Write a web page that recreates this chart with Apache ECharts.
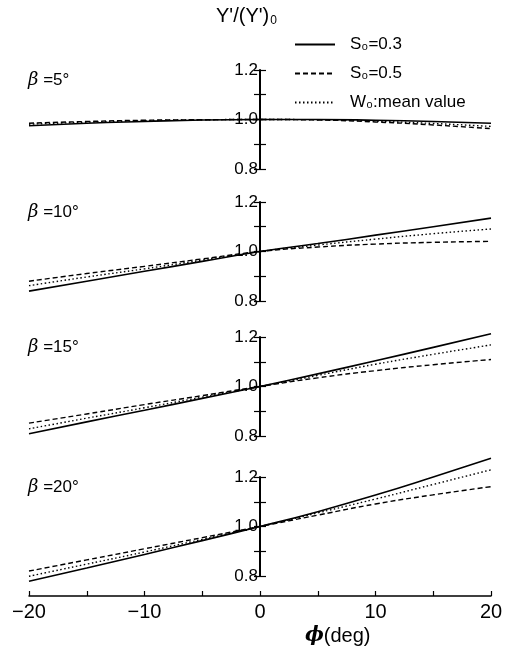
<!DOCTYPE html>
<html>
<head>
<meta charset="utf-8">
<script src="https://cdn.jsdelivr.net/npm/echarts@6/dist/echarts.min.js"></script>
<style>
  html, body { margin: 0; padding: 0; background: #fff; }
  #chart { width: 506px; height: 651px; }
</style>
</head>
<body>
<div id="chart"></div>
<script>
// phi (deg) sample points, shared by every panel
const phi = [-20, -15, -10, -5, 0, 5, 10, 15, 20];

// beta = 5 deg
const s03_b5 = [0.975, 0.985, 0.992, 0.998, 1.0, 1.0, 0.997, 0.992, 0.985];
const s05_b5 = [0.985, 0.992, 0.997, 0.999, 1.0, 0.998, 0.99, 0.978, 0.963];
const w0_b5 = [0.981, 0.989, 0.995, 0.999, 1.0, 0.999, 0.993, 0.984, 0.972];

// beta = 10 deg
const s03_b10 = [0.84, 0.88, 0.92, 0.96, 1.0, 1.032, 1.066, 1.1, 1.135];
const s05_b10 = [0.88, 0.911, 0.94, 0.97, 1.0, 1.018, 1.03, 1.037, 1.041];
const w0_b10 = [0.862, 0.897, 0.93, 0.965, 1.0, 1.026, 1.05, 1.072, 1.091];

// beta = 15 deg
const s03_b15 = [0.809, 0.857, 0.904, 0.952, 1.0, 1.051, 1.104, 1.158, 1.213];
const s05_b15 = [0.852, 0.889, 0.927, 0.963, 1.0, 1.035, 1.064, 1.088, 1.109];
const w0_b15 = [0.829, 0.872, 0.914, 0.957, 1.0, 1.045, 1.09, 1.13, 1.168];

// beta = 20 deg
const s03_b20 = [0.779, 0.832, 0.887, 0.943, 1.0, 1.06, 1.127, 1.2, 1.276];
const s05_b20 = [0.82, 0.865, 0.91, 0.955, 1.0, 1.046, 1.091, 1.128, 1.161];
const w0_b20 = [0.799, 0.848, 0.897, 0.948, 1.0, 1.055, 1.111, 1.17, 1.229];

const betaLabels = ['5°', '10°', '15°', '20°'];
const seriesNames = ['S₀=0.3', 'S₀=0.5', 'W₀:mean value'];

const panels = [
    [s03_b5, s05_b5, w0_b5],
    [s03_b10, s05_b10, w0_b10],
    [s03_b15, s05_b15, w0_b15],
    [s03_b20, s05_b20, w0_b20]
];

const FONT = '"Liberation Sans", Arial, sans-serif';
const gridTops = [70, 202, 337, 477];
const gridH = 99;
const lineTypes = ['solid', [5, 3], [1.5, 2.5]];

let grids = [], xAxes = [], yAxes = [], series = [], graphics = [];

panels.forEach((lines, g) => {
    grids.push({left: 29, width: 462, top: gridTops[g], height: gridH});
    let last = g === panels.length - 1;
    xAxes.push({
        gridIndex: g, type: 'value', min: -20, max: 20, interval: 5,
        show: last, offset: 20,
        axisLine: {show: last, onZero: false, lineStyle: {color: '#000', width: 1.5}},
        axisTick: {show: last, inside: true, length: 5, lineStyle: {color: '#000', width: 1.2}},
        splitLine: {show: false},
        axisLabel: {
            show: last, color: '#000', fontSize: 20, fontFamily: FONT, margin: 6,
            formatter: v => (v % 10 === 0 ? String(v).replace('-', '−') : '')
        }
    });
    // main axis: line, labels, left half of ticks
    yAxes.push({
        gridIndex: g, type: 'value', min: 0.8, max: 1.2, interval: 0.1,
        position: 'left', offset: -231,
        axisLine: {show: true, onZero: false, lineStyle: {color: '#000', width: 2}},
        axisTick: {show: true, length: 6, lineStyle: {color: '#000', width: 1.2}},
        splitLine: {show: false},
        axisLabel: {
            color: '#000', fontSize: 17, fontFamily: FONT, margin: 2,
            formatter: v => {
                let t = Math.round(v * 10);
                return t % 2 === 0 ? (t / 10).toFixed(1) : '';
            }
        }
    });
    // twin axis: right half of the ticks
    yAxes.push({
        gridIndex: g, type: 'value', min: 0.8, max: 1.2, interval: 0.1,
        position: 'left', offset: -231,
        axisLine: {show: false, onZero: false},
        axisTick: {show: true, inside: true, length: 6, lineStyle: {color: '#000', width: 1.2}},
        splitLine: {show: false},
        axisLabel: {show: false}
    });
    lines.forEach((vals, k) => {
        series.push({
            name: seriesNames[k], type: 'line', smooth: true, symbol: 'none',
            xAxisIndex: g, yAxisIndex: 2 * g, clip: false,
            lineStyle: {color: '#000', width: k === 0 ? 1.6 : 1.4, type: lineTypes[k]},
            itemStyle: {color: '#000'},
            data: phi.map((p, i) => [p, vals[i]])
        });
    });
    graphics.push({
        type: 'text', left: 28, top: gridTops[g] + 1,
        style: {
            text: '{b|β} =' + betaLabels[g], fill: '#000', font: '17px ' + FONT,
            rich: {b: {fontFamily: 'DejaVu Serif', fontStyle: 'italic', fontSize: 18}}
        }
    });
});

graphics.push({
    type: 'text', left: 216, top: 6,
    style: {
        text: "Y'/(Y'){s|0}", fill: '#000', font: '20px ' + FONT,
        rich: {s: {fontSize: 12, padding: [10, 0, 0, 1], fontFamily: FONT}}
    }
});
graphics.push({
    type: 'text', left: 305, top: 626,
    style: {
        text: '{p|ϕ}(deg)', fill: '#000', font: '20px ' + FONT,
        rich: {p: {fontFamily: 'DejaVu Serif', fontStyle: 'italic', fontWeight: 'bold', fontSize: 20}}
    }
});

const chart = echarts.init(document.getElementById('chart'));
chart.setOption({
    backgroundColor: '#fff',
    animation: false,
    legend: {
        orient: 'vertical', left: 289, top: 31, itemWidth: 40, itemHeight: 14, itemGap: 12,
        selectedMode: false, data: seriesNames,
        itemStyle: {opacity: 0},
        textStyle: {color: '#000', fontSize: 17, fontFamily: FONT, padding: [0, 0, 0, 10]}
    },
    grid: grids,
    xAxis: xAxes,
    yAxis: yAxes,
    series: series,
    graphic: graphics
});
</script>
</body>
</html>
